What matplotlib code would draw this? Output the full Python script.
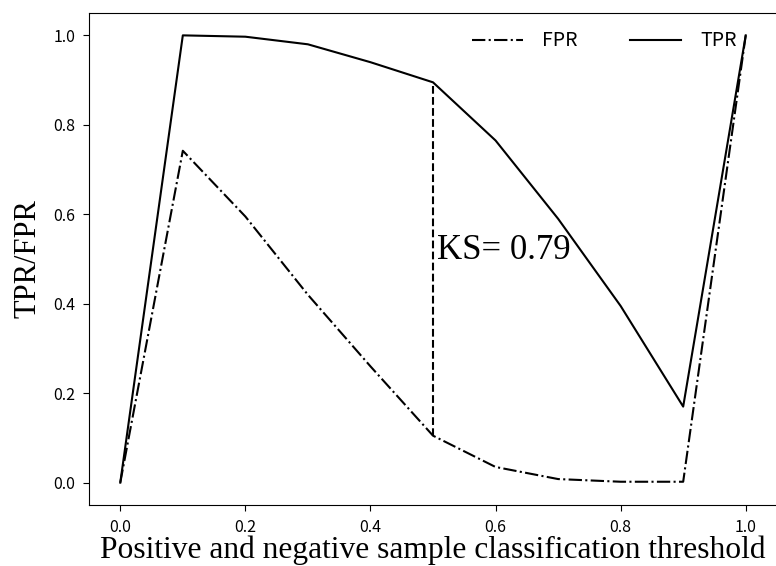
import matplotlib
matplotlib.use('Agg')
import matplotlib.pyplot as plt
import numpy as np

# thresholds and rates
threshold = [0.0, 0.1, 0.2, 0.3, 0.4, 0.5, 0.6, 0.7, 0.8, 0.9, 1.0]
tpr = [0.0, 1.0, 0.997, 0.98, 0.94, 0.895, 0.765, 0.59, 0.395, 0.17, 1.0]
fpr = [0.0, 0.742, 0.595, 0.42, 0.26, 0.105, 0.035, 0.008, 0.002, 0.002, 1.0]
ks_at = 0.5
ks_text = 'KS= 0.79'

tick_font = ['Noto Sans CJK SC', 'DejaVu Sans']
serif = ['Liberation Serif', 'DejaVu Serif']

fig = plt.figure(figsize=(7.76, 5.66), dpi=100)
ax = fig.add_axes([89 / 776, 61 / 566, 688 / 776, 492 / 566])

ax.plot(threshold, fpr, color='black', linestyle='-.', linewidth=1.5, label='FPR')
ax.plot(threshold, tpr, color='black', linestyle='-', linewidth=1.5, label='TPR')

i = threshold.index(ks_at)
ax.plot([ks_at, ks_at], [fpr[i], tpr[i]], color='black', linestyle='--', linewidth=1.5)
ax.text(ks_at + 0.006, (fpr[i] + tpr[i]) / 2 + 0.02, ks_text, fontsize=25,
        family=serif, va='center', ha='left')

ax.set_xlabel('Positive and negative sample classification threshold', fontsize=22.7,
              family=serif, labelpad=0)
ax.set_ylabel('TPR/FPR', fontsize=22, family=serif, labelpad=8)

ax.tick_params(length=4, pad=6)
for lab in ax.get_xticklabels() + ax.get_yticklabels():
    lab.set_family(tick_font)
    lab.set_fontsize(11.5)

leg = ax.legend(loc='upper right', bbox_to_anchor=(1 - 23 / 688, 1), ncol=2, frameon=False,
                prop={'family': tick_font, 'size': 14},
                handlelength=2.6, handletextpad=1.0, columnspacing=2.7)

fig.savefig('out.png', dpi=100)
